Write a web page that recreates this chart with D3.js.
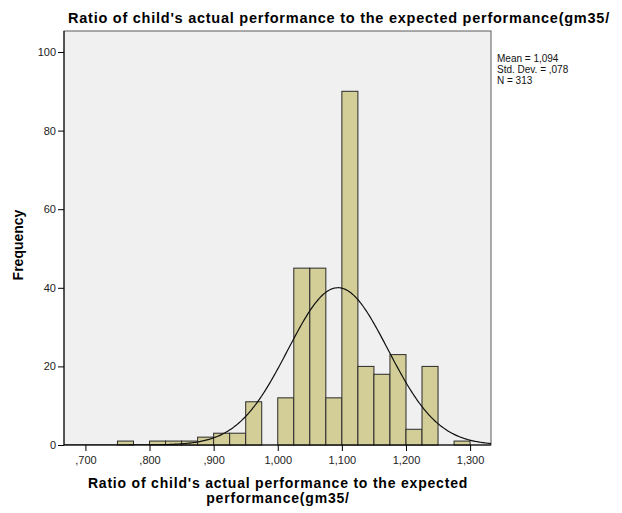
<!DOCTYPE html>
<html>
<head>
<meta charset="utf-8">
<script src="https://cdn.jsdelivr.net/npm/d3@7"></script>
<style>
  body { margin: 0; background: #fff; }
  text { font-family: "Liberation Sans", Arial, sans-serif; }
</style>
</head>
<body>
<svg id="chart" width="622" height="513"></svg>
<script>
// Histogram bins (lower edge, width 0.025) and their frequencies
const binStarts = [0.750, 0.800, 0.825, 0.850, 0.875, 0.900, 0.925, 0.950, 0.975,
                   1.000, 1.025, 1.050, 1.075, 1.100, 1.125, 1.150, 1.175, 1.200, 1.225, 1.275];
const binCounts = [1, 1, 1, 1, 2, 3, 3, 11, 0,
                   12, 45, 45, 12, 90, 20, 18, 23, 4, 20, 1];
const binWidth = 0.025;

// Summary statistics
const mean = 1.094;
const stdDev = 0.078;
const n = 313;

const xTicks = [0.7, 0.8, 0.9, 1.0, 1.1, 1.2, 1.3];
const xTickLabels = [",700", ",800", ",900", "1,000", "1,100", "1,200", "1,300"];
const yTicks = [0, 20, 40, 60, 80, 100];
const statLines = ["Mean = 1,094", "Std. Dev. = ,078", "N = 313"];

const titleText = "Ratio of child's actual performance to the expected performance(gm35/";
const xTitleLines = ["Ratio of child's actual performance to the expected", "performance(gm35/"];
const yTitle = "Frequency";

const svg = d3.select("#chart");
const plot = { left: 64, right: 491, top: 31, bottom: 445 };

const x = d3.scaleLinear().domain([0.6666, 1.3326]).range([plot.left, plot.right]);
const y = d3.scaleLinear().domain([0, 100]).range([plot.bottom, 52]);

// Title
svg.append("text")
  .attr("x", 339).attr("y", 23)
  .attr("text-anchor", "middle")
  .attr("font-size", 14.5).attr("font-weight", "bold")
  .attr("letter-spacing", 0.75)
  .attr("fill", "#000")
  .text(titleText);

// Plot background
svg.append("rect")
  .attr("x", plot.left).attr("y", plot.top)
  .attr("width", plot.right - plot.left).attr("height", plot.bottom - plot.top)
  .attr("fill", "#f0f0f0").attr("stroke", "#5a5a5a").attr("stroke-width", 1);

svg.append("clipPath").attr("id", "plotclip")
  .append("rect")
  .attr("x", plot.left).attr("y", plot.top)
  .attr("width", plot.right - plot.left).attr("height", plot.bottom - plot.top);

// Bars
const bars = binStarts.map((s, i) => ({ x0: s, x1: s + binWidth, count: binCounts[i] }))
  .filter(d => d.count > 0);
svg.append("g").selectAll("rect")
  .data(bars)
  .join("rect")
  .attr("x", d => x(d.x0))
  .attr("y", d => y(d.count))
  .attr("width", d => x(d.x1) - x(d.x0))
  .attr("height", d => y(0) - y(d.count))
  .attr("fill", "#d3ce97")
  .attr("stroke", "#2a2a2a")
  .attr("stroke-width", 1);

// Normal curve scaled to counts per bin
const scale = n * binWidth / (stdDev * Math.sqrt(2 * Math.PI));
const curvePts = d3.range(0, 401).map(i => {
  const v = x.domain()[0] + (x.domain()[1] - x.domain()[0]) * i / 400;
  return [v, scale * Math.exp(-0.5 * Math.pow((v - mean) / stdDev, 2))];
});
svg.append("path")
  .datum(curvePts)
  .attr("clip-path", "url(#plotclip)")
  .attr("fill", "none")
  .attr("stroke", "#111")
  .attr("stroke-width", 1.2)
  .attr("d", d3.line().x(d => x(d[0])).y(d => y(d[1])));

// Y axis
const yAxis = d3.axisLeft(y).tickValues(yTicks).tickSize(6).tickSizeOuter(0).tickPadding(2);
const gy = svg.append("g").attr("transform", `translate(${plot.left},0)`).call(yAxis);
gy.select(".domain").remove();
gy.append("line").attr("x1", 0).attr("x2", 0).attr("y1", plot.top).attr("y2", plot.bottom)
  .attr("stroke", "#000");
gy.selectAll(".tick line").attr("stroke", "#000");
gy.selectAll(".tick text").attr("font-size", 11).attr("fill", "#222")
  .attr("font-family", "Liberation Sans, Arial, sans-serif");

// X axis
const xAxis = d3.axisBottom(x).tickValues(xTicks)
  .tickFormat((d, i) => xTickLabels[i]).tickSize(6).tickSizeOuter(0).tickPadding(5);
const gx = svg.append("g").attr("transform", `translate(0,${plot.bottom})`).call(xAxis);
gx.select(".domain").remove();
gx.append("line").attr("x1", plot.left).attr("x2", plot.right).attr("y1", 0).attr("y2", 0)
  .attr("stroke", "#000");
gx.selectAll(".tick line").attr("stroke", "#000");
gx.selectAll(".tick text").attr("font-size", 11).attr("fill", "#222")
  .attr("font-family", "Liberation Sans, Arial, sans-serif");

// Axis titles
svg.append("g").selectAll("text")
  .data(xTitleLines)
  .join("text")
  .attr("x", 278).attr("y", (d, i) => 488 + i * 15)
  .attr("text-anchor", "middle")
  .attr("font-size", 14).attr("font-weight", "bold")
  .attr("letter-spacing", 0.8)
  .attr("fill", "#000")
  .text(d => d);

svg.append("text")
  .attr("transform", "translate(23,245) rotate(-90)")
  .attr("text-anchor", "middle")
  .attr("font-size", 14).attr("font-weight", "bold")
  .attr("fill", "#000")
  .text(yTitle);

// Summary statistics block
svg.append("g").selectAll("text")
  .data(statLines)
  .join("text")
  .attr("x", 497).attr("y", (d, i) => 61.5 + i * 11)
  .attr("font-size", 10)
  .attr("fill", "#111")
  .text(d => d);
</script>
</body>
</html>
